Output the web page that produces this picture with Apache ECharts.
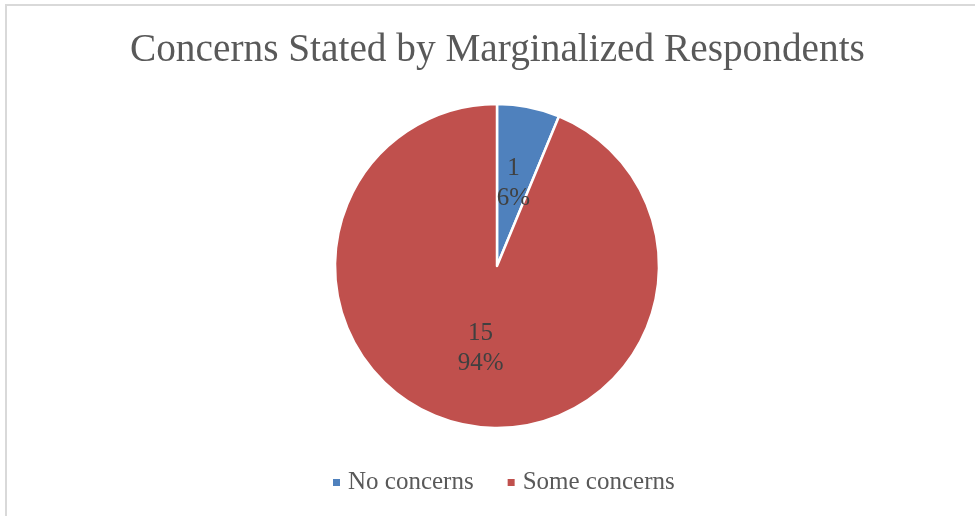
<!DOCTYPE html>
<html>
<head>
<meta charset="utf-8">
<script src="https://cdn.jsdelivr.net/npm/echarts@6/dist/echarts.min.js"></script>
<style>
  html, body { margin: 0; padding: 0; background: #fff; }
  #chart { width: 975px; height: 516px; }
</style>
</head>
<body>
<div id="chart"></div>
<script>
// Survey responses: how many marginalized respondents stated concerns
const categories = ['No concerns', 'Some concerns'];
const counts = [1, 15];
const colors = ['#4F81BD', '#C0504D'];
const titleText = 'Concerns Stated by Marginalized Respondents';

const serif = '"Liberation Serif", "DejaVu Serif", serif';

const chart = echarts.init(document.getElementById('chart'), null, { renderer: 'canvas' });

chart.setOption({
  backgroundColor: '#ffffff',
  animation: false,
  title: {
    text: titleText,
    left: 125,
    top: 26,
    textStyle: {
      fontFamily: serif,
      fontWeight: 'normal',
      fontSize: 39.3,
      color: '#595959'
    }
  },
  legend: {
    data: categories,
    bottom: 16,
    left: 326,
    icon: 'rect',
    itemWidth: 9,
    itemHeight: 9,
    itemGap: 32,
    textStyle: {
      fontFamily: serif,
      fontSize: 25,
      color: '#595959',
      padding: [0, 0, 0, 2]
    }
  },
  graphic: [{
    type: 'rect',
    shape: { x: 6, y: 5, width: 980, height: 520 },
    style: { fill: 'none', stroke: '#d9d9d9', lineWidth: 2 },
    silent: true
  }],
  series: [{
    type: 'pie',
    center: [497, 266],
    radius: 162,
    startAngle: 90,
    clockwise: true,
    label: {
      show: true,
      position: 'inside',
      formatter: p => p.value + '\n' + Math.round(p.percent) + '%',
      fontFamily: serif,
      fontSize: 25,
      lineHeight: 30,
      padding: [8, 0, 0, 0],
      color: '#404040'
    },
    labelLine: { show: false },
    itemStyle: { borderColor: '#ffffff', borderWidth: 2.5 },
    emphasis: { disabled: true },
    data: categories.map((name, i) => ({
      name: name,
      value: counts[i],
      itemStyle: { color: colors[i] }
    }))
  }]
});
</script>
</body>
</html>
